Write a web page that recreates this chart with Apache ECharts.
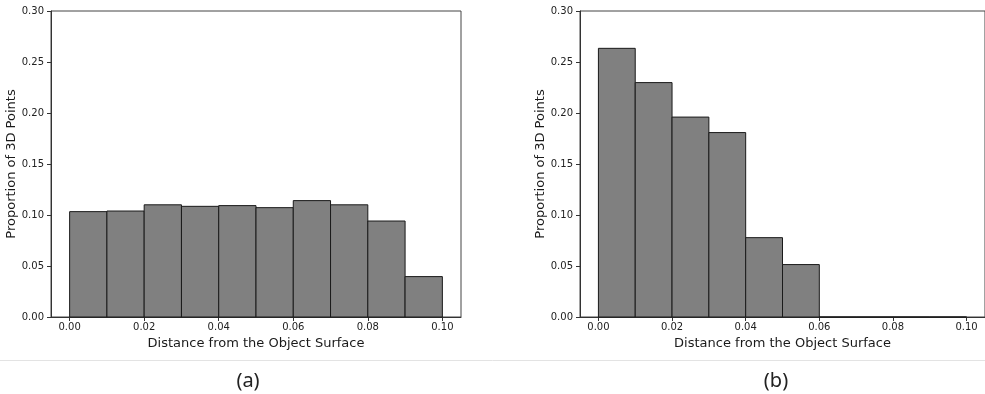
<!DOCTYPE html>
<html>
<head>
<meta charset="utf-8">
<script src="https://cdn.jsdelivr.net/npm/echarts@6/dist/echarts.min.js"></script>
<style>html,body{margin:0;padding:0;background:#fff;}#c{width:985px;height:394px;}</style>
</head>
<body>
<div id="c"></div>
<script>
// bin edges (start of each 0.01-wide bin)
var binStarts = [0.00, 0.01, 0.02, 0.03, 0.04, 0.05, 0.06, 0.07, 0.08, 0.09];
var binWidth = 0.01;
var valuesA = [0.1033, 0.1039, 0.1100, 0.1085, 0.1092, 0.1072, 0.1141, 0.1100, 0.0941, 0.0396];
var valuesB = [0.2634, 0.2298, 0.1960, 0.1808, 0.0778, 0.0514, 0, 0, 0, 0];
var xTicks = [0.00, 0.02, 0.04, 0.06, 0.08, 0.10];
var captions = ['(a)', '(b)'];
var xAxisName = 'Distance from the Object Surface';
var yAxisName = 'Proportion of 3D Points';

function histData(vals) {
  return binStarts.map(function (s, i) { return [s, s + binWidth, vals[i]]; });
}

var FONT = 'DejaVu Sans';
function renderItem(params, api) {
  var p0 = api.coord([api.value(0), api.value(2)]);
  var p1 = api.coord([api.value(1), 0]);
  return {
    type: 'rect',
    shape: { x: p0[0], y: p0[1], width: p1[0] - p0[0], height: p1[1] - p0[1] },
    style: { fill: '#808080', stroke: '#1a1a1a', lineWidth: 1 }
  };
}

function xAxisCfg(idx) {
  return {
    type: 'value', gridIndex: idx, min: -0.005, max: 0.105,
    name: xAxisName, nameLocation: 'middle', nameGap: 17,
    nameTextStyle: { fontFamily: FONT, fontSize: 13, color: '#1a1a1a' },
    axisLine: { show: true, onZero: false, lineStyle: { color: '#333', width: 1 } },
    axisTick: { show: true, length: 4, customValues: xTicks, lineStyle: { color: '#333' } },
    axisLabel: { show: true, customValues: xTicks, margin: 5, fontFamily: FONT, fontSize: 10, color: '#222',
      formatter: function (v) { return v.toFixed(2); } },
    splitLine: { show: false }
  };
}
function yAxisCfg(idx) {
  return {
    type: 'value', gridIndex: idx, min: 0, max: 0.3, interval: 0.05,
    name: yAxisName, nameLocation: 'middle', nameGap: 32, nameRotate: 90,
    nameTextStyle: { fontFamily: FONT, fontSize: 13, color: '#1a1a1a' },
    axisLine: { show: true, onZero: false, lineStyle: { color: '#333', width: 1 } },
    axisTick: { show: true, length: 4, lineStyle: { color: '#333' } },
    axisLabel: { show: true, margin: 7, fontFamily: FONT, fontSize: 10, color: '#222',
      formatter: function (v) { return v.toFixed(2); } },
    splitLine: { show: false }
  };
}

var chart = echarts.init(document.getElementById('c'), null, { renderer: 'canvas' });
chart.setOption({
  animation: false,
  backgroundColor: '#fff',
  grid: [
    { left: 51, top: 11, width: 410, height: 306, show: true, borderColor: '#444', borderWidth: 1, backgroundColor: 'transparent' },
    { left: 580, top: 11, width: 410, height: 306, show: true, borderColor: '#444', borderWidth: 1, backgroundColor: 'transparent' }
  ],
  xAxis: [xAxisCfg(0), xAxisCfg(1)],
  yAxis: [yAxisCfg(0), yAxisCfg(1)],
  series: [
    { type: 'custom', xAxisIndex: 0, yAxisIndex: 0, renderItem: renderItem, data: histData(valuesA), encode: { x: [0, 1], y: 2 } },
    { type: 'custom', xAxisIndex: 1, yAxisIndex: 1, renderItem: renderItem, data: histData(valuesB), encode: { x: [0, 1], y: 2 } }
  ],
  graphic: [
    { type: 'line', shape: { x1: 0, y1: 360.5, x2: 985, y2: 360.5 }, style: { stroke: '#e3e3e3', lineWidth: 1 } },
    { type: 'text', x: 248, y: 381, style: { text: captions[0], fontFamily: 'Noto Sans', fontSize: 20, fill: '#222', align: 'center', verticalAlign: 'middle' } },
    { type: 'text', x: 776, y: 381, style: { text: captions[1], fontFamily: 'Noto Sans', fontSize: 20, fill: '#222', align: 'center', verticalAlign: 'middle' } }
  ]
});
</script>
</body>
</html>
